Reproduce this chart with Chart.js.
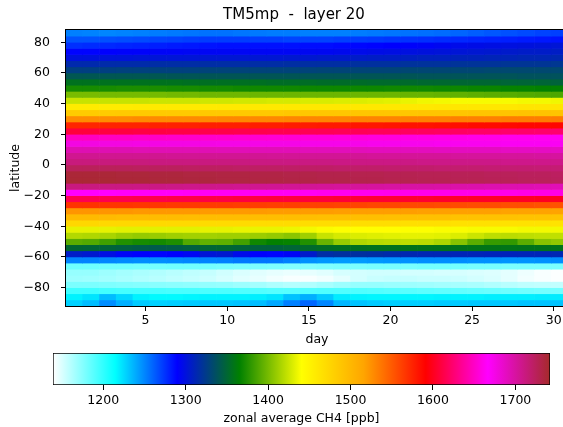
<!DOCTYPE html>
<html>
<head>
<meta charset="utf-8">
<script src="https://cdn.jsdelivr.net/npm/chart.js@4.4.1/dist/chart.umd.min.js"></script>
<style>
  html, body { margin: 0; padding: 0; background: #fff; overflow: hidden; }
  #wrap { position: relative; width: 563px; height: 427px; overflow: hidden; }
  #mainChart { position: absolute; left: 0; top: 0; }
  #cbarChart { position: absolute; left: 0; top: 340px; }
</style>
</head>
<body>
<div id="wrap">
  <canvas id="mainChart" width="588" height="350"></canvas>
  <canvas id="cbarChart" width="563" height="87"></canvas>
</div>
<script>
// day columns and latitude band edges (north to south)
const days = [1,2,3,4,5,6,7,8,9,10,11,12,13,14,15,16,17,18,19,20,21,22,23,24,25,26,27,28,29,30];
const latEdges = [88,84,80,76,72,68,64,60,56,52,48,44,40,36,32,28,24,20,16,12,8,4,0,
                  -4,-8,-12,-16,-20,-24,-28,-32,-36,-40,-44,-48,-52,-56,-60,-64,-68,-72,-76,-80,-84,-88,-92];

// zonal average CH4 [ppb], one array per 4-degree band, one value per day
const ch4_84N = [1252,1251,1250,1251,1252,1253,1254,1255,1256,1256,1255,1254,1253,1253,1252,1252,1252,1253,1254,1255,1256,1257,1258,1260,1262,1264,1266,1268,1270,1271];
const ch4_80N = [1265,1265,1266,1267,1268,1269,1270,1271,1272,1272,1272,1271,1271,1270,1270,1270,1271,1272,1273,1274,1275,1276,1277,1278,1279,1280,1281,1282,1283,1284];
const ch4_76N = [1276,1277,1278,1279,1280,1281,1282,1283,1284,1285,1285,1285,1285,1285,1286,1286,1287,1288,1289,1290,1291,1292,1294,1296,1297,1298,1299,1300,1301,1302];
const ch4_72N = [1289,1289,1290,1291,1291,1292,1292,1293,1293,1293,1293,1293,1293,1293,1294,1294,1295,1296,1297,1298,1299,1300,1301,1302,1303,1304,1305,1306,1306,1307];
const ch4_68N = [1300,1300,1301,1301,1302,1302,1302,1302,1303,1303,1303,1303,1303,1304,1304,1305,1305,1306,1307,1307,1308,1309,1309,1310,1310,1311,1311,1312,1312,1313];
const ch4_64N = [1314,1314,1315,1315,1315,1316,1316,1316,1316,1316,1316,1316,1316,1317,1317,1317,1317,1318,1318,1318,1319,1319,1319,1320,1320,1320,1321,1321,1321,1322];
const ch4_60N = [1327,1327,1327,1328,1328,1328,1328,1328,1329,1329,1329,1329,1329,1329,1329,1330,1330,1330,1330,1330,1331,1331,1331,1331,1331,1332,1332,1332,1332,1332];
const ch4_56N = [1341,1341,1341,1341,1341,1341,1340,1340,1340,1340,1340,1340,1340,1340,1340,1340,1340,1340,1340,1340,1340,1339,1339,1339,1339,1339,1339,1338,1338,1338];
const ch4_52N = [1356,1356,1356,1356,1356,1356,1356,1355,1355,1355,1355,1355,1354,1354,1354,1353,1353,1353,1352,1352,1352,1351,1351,1350,1350,1350,1349,1349,1349,1348];
const ch4_48N = [1372,1372,1372,1373,1373,1373,1372,1372,1371,1371,1370,1370,1370,1370,1369,1369,1369,1369,1369,1370,1370,1370,1369,1369,1368,1368,1367,1367,1366,1366];
const ch4_44N = [1401,1401,1400,1400,1400,1400,1399,1399,1398,1398,1398,1397,1397,1397,1397,1397,1397,1397,1397,1397,1396,1396,1395,1394,1393,1392,1391,1390,1389,1388];
const ch4_40N = [1424,1424,1424,1424,1424,1425,1425,1425,1426,1426,1427,1427,1428,1428,1429,1429,1430,1430,1431,1432,1434,1436,1437,1438,1438,1438,1438,1437,1437,1436];
const ch4_36N = [1457,1457,1457,1457,1458,1458,1458,1458,1458,1459,1459,1459,1459,1459,1460,1460,1460,1460,1460,1460,1460,1460,1461,1461,1461,1461,1461,1462,1462,1462];
const ch4_32N = [1484,1484,1484,1485,1485,1485,1485,1485,1486,1486,1486,1486,1486,1487,1487,1487,1487,1488,1488,1488,1488,1489,1489,1489,1490,1490,1490,1491,1491,1491];
const ch4_28N = [1527,1527,1527,1527,1528,1528,1528,1528,1528,1529,1529,1529,1529,1530,1530,1530,1530,1531,1531,1531,1532,1532,1532,1533,1533,1533,1534,1534,1534,1535];
const ch4_24N = [1574,1574,1575,1575,1575,1576,1576,1576,1577,1577,1577,1578,1578,1579,1579,1580,1580,1581,1581,1582,1583,1583,1584,1585,1586,1586,1587,1588,1588,1589];
const ch4_20N = [1609,1609,1610,1610,1611,1611,1612,1612,1613,1613,1614,1614,1615,1615,1616,1616,1617,1617,1618,1618,1619,1619,1620,1620,1621,1621,1622,1622,1623,1623];
const ch4_16N = [1648,1648,1649,1649,1650,1650,1651,1651,1652,1652,1653,1653,1654,1654,1655,1655,1656,1656,1657,1657,1658,1658,1659,1659,1660,1660,1661,1661,1662,1662];
const ch4_12N = [1677,1677,1677,1677,1676,1676,1676,1676,1676,1675,1675,1675,1675,1675,1674,1674,1674,1674,1673,1673,1673,1673,1672,1672,1672,1672,1671,1671,1671,1671];
const ch4_8N  = [1694,1694,1694,1694,1693,1693,1693,1693,1693,1692,1692,1692,1692,1692,1691,1691,1691,1691,1690,1690,1690,1690,1689,1689,1689,1689,1688,1688,1688,1688];
const ch4_4N  = [1706,1706,1706,1706,1706,1706,1705,1705,1705,1705,1705,1705,1704,1704,1704,1704,1704,1704,1703,1703,1703,1703,1703,1702,1702,1702,1702,1702,1701,1701];
const ch4_0N  = [1713,1713,1713,1713,1713,1712,1712,1712,1712,1712,1712,1711,1711,1711,1711,1711,1710,1710,1710,1710,1710,1709,1709,1709,1709,1709,1708,1708,1708,1708];
const ch4_0S  = [1725,1725,1725,1725,1724,1724,1724,1723,1723,1723,1722,1722,1722,1721,1721,1721,1720,1720,1720,1719,1719,1719,1718,1718,1718,1717,1717,1717,1716,1716];
const ch4_4S  = [1737,1737,1737,1736,1736,1735,1735,1734,1734,1733,1733,1732,1732,1731,1731,1730,1730,1729,1729,1728,1728,1727,1727,1726,1726,1725,1725,1724,1724,1723];
const ch4_8S  = [1738,1738,1738,1737,1737,1736,1736,1735,1735,1734,1734,1733,1733,1732,1732,1731,1731,1730,1730,1729,1729,1728,1728,1727,1727,1726,1726,1725,1725,1724];
const ch4_12S = [1712,1712,1711,1711,1710,1710,1709,1708,1708,1707,1706,1706,1705,1704,1704,1703,1702,1702,1701,1700,1699,1699,1698,1697,1696,1695,1695,1694,1693,1692];
const ch4_16S = [1666,1666,1666,1665,1665,1665,1665,1664,1664,1664,1664,1663,1663,1663,1663,1662,1662,1662,1662,1661,1661,1661,1661,1660,1660,1660,1660,1659,1659,1659];
const ch4_20S = [1615,1615,1614,1614,1613,1613,1612,1612,1611,1611,1610,1610,1609,1609,1608,1608,1607,1607,1606,1606,1605,1605,1604,1604,1603,1603,1602,1602,1601,1601];
const ch4_24S = [1568,1568,1567,1567,1566,1566,1565,1565,1564,1564,1563,1563,1562,1562,1561,1561,1560,1560,1559,1559,1558,1558,1557,1557,1556,1556,1555,1555,1554,1554];
const ch4_28S = [1523,1523,1523,1523,1522,1522,1522,1522,1521,1521,1521,1521,1520,1520,1520,1520,1519,1519,1519,1519,1519,1518,1518,1518,1518,1518,1517,1517,1517,1517];
const ch4_32S = [1498,1498,1498,1497,1497,1497,1497,1496,1496,1496,1496,1495,1495,1495,1495,1494,1494,1494,1494,1493,1493,1493,1493,1492,1492,1492,1492,1491,1491,1491];
const ch4_36S = [1474,1474,1473,1473,1473,1472,1472,1472,1471,1471,1471,1470,1470,1470,1469,1469,1469,1468,1468,1468,1467,1467,1467,1466,1466,1466,1465,1465,1465,1464];
const ch4_40S = [1433,1433,1433,1432,1432,1432,1432,1432,1433,1433,1434,1434,1434,1435,1437,1439,1440,1441,1441,1441,1440,1440,1439,1439,1438,1438,1438,1437,1437,1437];
const ch4_44S = [1418,1417,1415,1411,1409,1410,1412,1413,1413,1412,1412,1411,1409,1406,1412,1424,1428,1430,1431,1432,1433,1433,1432,1430,1425,1421,1420,1421,1422,1422];
const ch4_48S = [1392,1390,1384,1375,1372,1371,1374,1390,1394,1393,1385,1370,1366,1367,1375,1396,1410,1417,1419,1420,1421,1420,1416,1405,1392,1381,1380,1392,1405,1408];
const ch4_52S = [1350,1349,1348,1346,1344,1343,1344,1346,1349,1350,1348,1347,1347,1349,1352,1354,1355,1355,1356,1356,1357,1357,1357,1357,1358,1358,1358,1357,1357,1357];
const ch4_56S = [1306,1304,1298,1292,1290,1289,1290,1293,1302,1304,1296,1290,1289,1292,1305,1316,1318,1318,1317,1315,1313,1312,1312,1311,1311,1310,1310,1311,1311,1312];
const ch4_60S = [1251,1251,1250,1249,1248,1248,1249,1250,1251,1252,1254,1255,1255,1252,1247,1245,1244,1244,1245,1246,1247,1248,1248,1248,1247,1247,1246,1246,1247,1248];
const ch4_64S = [1182,1182,1181,1181,1180,1180,1181,1181,1180,1179,1178,1178,1177,1176,1176,1177,1178,1178,1179,1179,1179,1180,1180,1180,1179,1179,1178,1178,1178,1178];
const ch4_68S = [1170,1170,1168,1166,1164,1162,1160,1158,1156,1153,1150,1148,1146,1145,1146,1148,1151,1152,1153,1153,1152,1152,1151,1151,1150,1149,1147,1144,1141,1140];
const ch4_72S = [1168,1167,1166,1164,1162,1160,1158,1156,1154,1151,1148,1146,1143,1141,1141,1143,1147,1152,1155,1156,1156,1155,1155,1154,1152,1150,1147,1143,1141,1140];
const ch4_76S = [1178,1178,1177,1176,1175,1174,1173,1172,1171,1170,1168,1166,1163,1161,1162,1165,1168,1170,1170,1169,1168,1167,1166,1165,1164,1162,1160,1158,1157,1157];
const ch4_80S = [1196,1196,1195,1194,1194,1194,1193,1193,1192,1192,1191,1190,1189,1189,1190,1191,1191,1191,1190,1189,1188,1187,1186,1185,1184,1183,1182,1181,1180,1180];
const ch4_84S = [1218,1222,1234,1226,1218,1216,1216,1217,1218,1218,1218,1219,1222,1232,1238,1230,1220,1218,1217,1217,1217,1217,1218,1218,1218,1219,1219,1219,1220,1220];
const ch4_88S = [1228,1234,1248,1238,1230,1228,1229,1230,1231,1231,1232,1234,1240,1252,1260,1250,1236,1232,1230,1229,1229,1229,1230,1230,1231,1231,1231,1232,1232,1232];

const rows = [ch4_84N, ch4_80N, ch4_76N, ch4_72N, ch4_68N, ch4_64N, ch4_60N, ch4_56N, ch4_52N,
              ch4_48N, ch4_44N, ch4_40N, ch4_36N, ch4_32N, ch4_28N, ch4_24N, ch4_20N, ch4_16N,
              ch4_12N, ch4_8N, ch4_4N, ch4_0N, ch4_0S, ch4_4S, ch4_8S, ch4_12S, ch4_16S, ch4_20S,
              ch4_24S, ch4_28S, ch4_32S, ch4_36S, ch4_40S, ch4_44S, ch4_48S, ch4_52S, ch4_56S,
              ch4_60S, ch4_64S, ch4_68S, ch4_72S, ch4_76S, ch4_80S, ch4_84S, ch4_88S];

const latTicks = [-80, -60, -40, -20, 0, 20, 40, 60, 80];
const dayTicks = [5, 10, 15, 20, 25, 30];
const cbarTicks = [1200, 1300, 1400, 1500, 1600, 1700];

// colour scale
const vMin = 1139, vMax = 1742;
const cmapColors = [[255,255,255],[0,255,255],[0,0,255],[0,128,0],[255,255,0],
                    [255,165,0],[255,0,0],[255,0,255],[165,42,42]];

function cmap(v) {
    let t = (v - vMin) / (vMax - vMin);
    t = Math.max(0, Math.min(1, t));
    const s = t * (cmapColors.length - 1);
    const i = Math.min(Math.floor(s), cmapColors.length - 2);
    const f = s - i;
    const a = cmapColors[i], b = cmapColors[i + 1];
    const c = [0, 1, 2].map(k => Math.round(a[k] + (b[k] - a[k]) * f));
    return 'rgb(' + c.join(',') + ')';
}

const xMin = 0.125, xMax = 30.875;
const colWidth = (xMax - xMin) / days.length;

const font = { family: 'DejaVu Sans', size: 12.5 };
const minus = v => (v < 0 ? '\u2212' + Math.abs(v) : String(v));

const heatSets = rows.map((vals, r) => ({
    data: vals.map((v, i) => ({ x: xMin + (i + 0.5) * colWidth, y: [latEdges[r + 1], latEdges[r]] })),
    backgroundColor: vals.map(cmap),
    borderWidth: 0,
    base: -1000, // keeps the zero line from nudging the bars apart
    grouped: false,
    barPercentage: 1,
    categoryPercentage: 1
}));

const framePlugin = {
    id: 'frame',
    afterDatasetsDraw(chart) {
        const { ctx, chartArea: a } = chart;
        ctx.save();
        ctx.strokeStyle = '#000';
        ctx.lineWidth = 1;
        ctx.strokeRect(Math.round(a.left) - 0.5, Math.round(a.top) - 0.5,
                       Math.round(a.right - a.left) + 1, Math.round(a.bottom - a.top) + 1);
        ctx.restore();
    }
};

new Chart(document.getElementById('mainChart'), {
    type: 'bar',
    data: { datasets: heatSets },
    plugins: [framePlugin],
    options: {
        responsive: false,
        animation: false,
        layout: { padding: { left: 20, right: 20, top: 0, bottom: 0 } },
        plugins: {
            legend: { display: false },
            tooltip: { enabled: false },
            title: {
                display: true,
                text: 'TM5mp  -  layer 20',
                color: '#000',
                font: { family: 'DejaVu Sans', size: 15, weight: 'normal' },
                padding: { top: 6, bottom: 6 }
            }
        },
        scales: {
            x: {
                type: 'linear',
                min: xMin,
                max: xMax,
                offset: false,
                afterBuildTicks: s => { s.ticks = dayTicks.map(v => ({ value: v })); },
                afterFit: s => { s.height = 44; },
                grid: { offset: false, drawOnChartArea: false, color: '#000', tickLength: 5 },
                border: { display: false },
                ticks: { autoSkip: false, maxRotation: 0, color: '#000', font: font, padding: 2.5,
                         callback: v => String(v) },
                title: { display: true, text: 'day', color: '#000', font: font, padding: { top: 0, bottom: 2.5 } }
            },
            y: {
                type: 'linear',
                min: -92,
                max: 88,
                afterBuildTicks: s => { s.ticks = latTicks.map(v => ({ value: v })); },
                afterFit: s => { s.width = 46; },
                grid: { drawOnChartArea: false, color: '#000', tickLength: 5 },
                border: { display: false },
                ticks: { autoSkip: false, color: '#000', font: font, padding: 11, callback: minus },
                title: { display: true, text: 'latitude', color: '#000', font: font, padding: { top: -11.5, bottom: 0 } }
            }
        }
    }
});

new Chart(document.getElementById('cbarChart'), {
    type: 'bar',
    data: {
        labels: [''],
        datasets: [{
            data: [[vMin, vMax]],
            backgroundColor: c => {
                const ch = c.chart;
                if (!ch.chartArea) return '#fff';
                const xs = ch.scales.x;
                const g = ch.ctx.createLinearGradient(xs.getPixelForValue(vMin), 0, xs.getPixelForValue(vMax), 0);
                cmapColors.forEach((col, k) => g.addColorStop(k / (cmapColors.length - 1), 'rgb(' + col.join(',') + ')'));
                return g;
            },
            borderColor: '#000',
            borderWidth: 1,
            borderSkipped: false,
            barPercentage: 1,
            categoryPercentage: 1
        }]
    },
    options: {
        indexAxis: 'y',
        responsive: false,
        animation: false,
        layout: { padding: { left: 53, right: 13, top: 13, bottom: 0 } },
        plugins: { legend: { display: false }, tooltip: { enabled: false } },
        scales: {
            x: {
                type: 'linear',
                min: vMin,
                max: vMax,
                afterBuildTicks: s => { s.ticks = cbarTicks.map(v => ({ value: v })); },
                afterFit: s => { s.height = 42; },
                grid: { drawOnChartArea: false, color: '#000', tickLength: 5 },
                border: { display: false },
                ticks: { autoSkip: false, maxRotation: 0, color: '#000', font: font, padding: 3.5,
                         callback: v => String(v) },
                title: { display: true, text: 'zonal average CH4 [ppb]', color: '#000', font: font,
                         padding: { top: 0, bottom: 0.5 } }
            },
            y: { display: false }
        }
    }
});
</script>
</body>
</html>
